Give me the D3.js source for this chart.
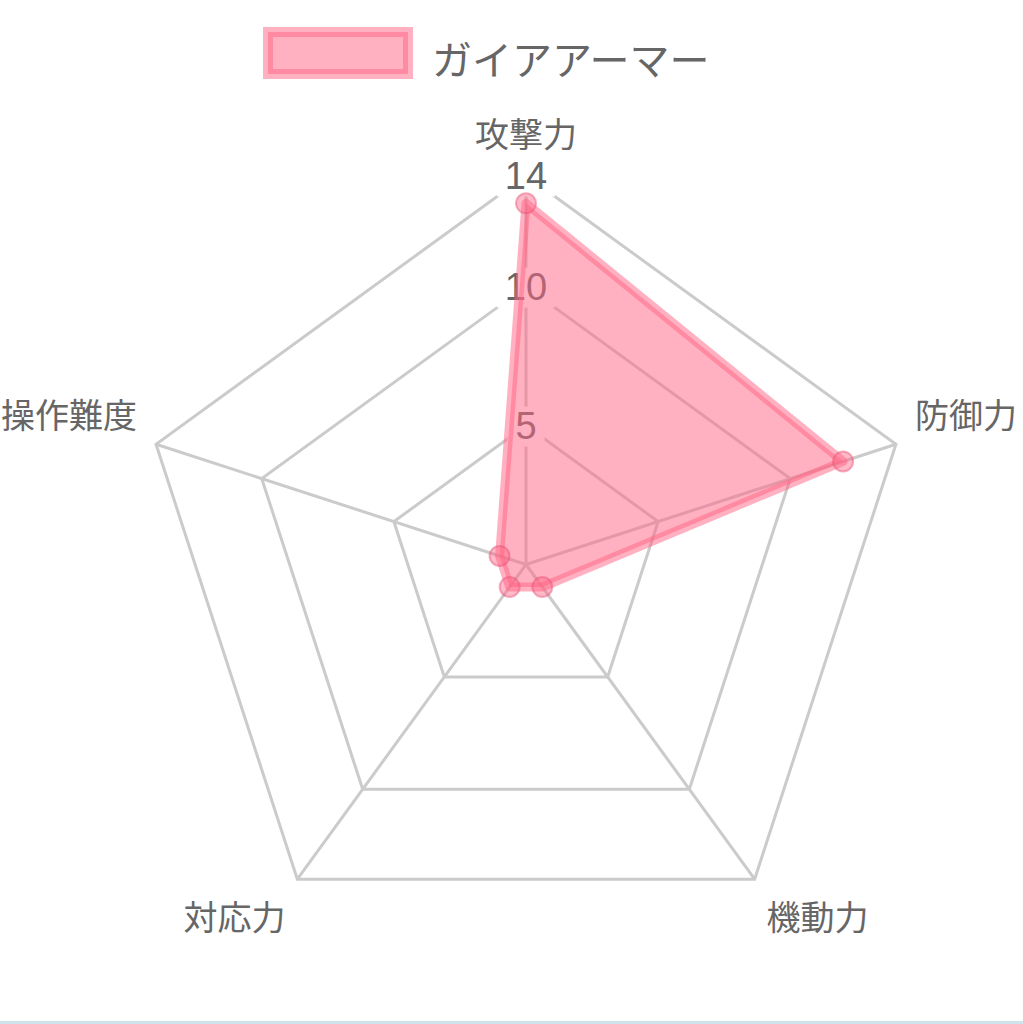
<!DOCTYPE html>
<html>
<head>
<meta charset="utf-8">
<script src="https://cdn.jsdelivr.net/npm/d3@7"></script>
<style>
  html, body { margin: 0; padding: 0; background: #fff; }
  text { font-family: "Noto Sans CJK JP", "Noto Sans", sans-serif; fill: #666; }
</style>
</head>
<body>
<div id="container"></div>
<script>
const width = 1023;
const height = 1024;

// data
const labels = ["攻撃力", "防御力", "機動力", "対応力", "操作難度"];
const values = [13, 12, 1, 1, 1];
const tickValues = [5, 10, 14];
const seriesName = "ガイアアーマー";

const cx = 526, cy = 564.5;
const r = d3.scaleLinear().domain([0, 14]).range([0, 389]);
const angle = d3.scalePoint().domain(d3.range(labels.length + 1)).range([0, 2 * Math.PI]);

const svg = d3.select("#container")
  .append("svg")
  .attr("width", width)
  .attr("height", height)
  .attr("viewBox", [0, 0, width, height]);

const g = svg.append("g").attr("transform", `translate(${cx},${cy})`);

const radial = d3.lineRadial().curve(d3.curveLinearClosed);

// grid rings
g.selectAll(".ring")
  .data(tickValues)
  .join("path")
  .attr("fill", "none")
  .attr("stroke", "#cbcbcb")
  .attr("stroke-width", 3)
  .attr("d", t => radial(labels.map((_, i) => [angle(i), r(t)])));

// angle lines
g.selectAll(".spoke")
  .data(labels)
  .join("line")
  .attr("stroke", "#cbcbcb")
  .attr("stroke-width", 3)
  .attr("x2", (_, i) => r(14) * Math.sin(angle(i)))
  .attr("y2", (_, i) => -r(14) * Math.cos(angle(i)));

// tick labels with white backdrop
const tick = g.selectAll(".tick")
  .data(tickValues)
  .join("g")
  .attr("transform", t => `translate(0,${-r(t)})`);

tick.append("text")
  .attr("text-anchor", "middle")
  .attr("dominant-baseline", "central")
  .style("font-size", "38px")
  .style("font-family", "'Liberation Sans', 'Noto Sans', sans-serif")
  .text(d => d)
  .each(function () {
    const b = this.getBBox();
    d3.select(this.parentNode).insert("rect", "text")
      .attr("x", b.x - 8).attr("y", b.y + 2)
      .attr("width", b.width + 16).attr("height", b.height - 2)
      .attr("fill", "#fff");
  });

// dataset
g.append("path")
  .attr("fill", "rgba(255,99,132,0.5)")
  .attr("stroke", "rgba(255,99,132,0.5)")
  .attr("stroke-width", 9)
  .attr("stroke-linejoin", "round")
  .attr("d", radial(values.map((v, i) => [angle(i), r(v)])));

g.selectAll(".pt")
  .data(values)
  .join("circle")
  .attr("cx", (v, i) => r(v) * Math.sin(angle(i)))
  .attr("cy", (v, i) => -r(v) * Math.cos(angle(i)))
  .attr("r", 10)
  .attr("fill", "rgba(255,99,132,0.45)")
  .attr("stroke", "rgba(230,80,115,0.45)")
  .attr("stroke-width", 2);

// point labels
const pad = 20;
g.selectAll(".plabel")
  .data(labels)
  .join("text")
  .style("font-size", "34px")
  .attr("dominant-baseline", "central")
  .attr("text-anchor", (_, i) => {
    const s = Math.sin(angle(i));
    return Math.abs(s) < 0.01 ? "middle" : s > 0 ? "start" : "end";
  })
  .attr("x", (_, i) => (r(14) + pad) * Math.sin(angle(i)))
  .attr("y", (_, i) => {
    const c = Math.cos(angle(i));
    const off = c > 0.9 ? -23 : c > 0 ? -25 : 20;
    return -(r(14) + pad) * c + off;
  })
  .text(d => d);

// legend
const legend = svg.append("g");
legend.append("rect")
  .attr("x", 268).attr("y", 32)
  .attr("width", 140).attr("height", 42)
  .attr("fill", "rgba(255,99,132,0.5)")
  .attr("stroke", "rgba(255,99,132,0.5)")
  .attr("stroke-width", 10);
legend.append("text")
  .attr("x", 432).attr("y", 58)
  .attr("dominant-baseline", "central")
  .style("font-size", "40px")
  .text(seriesName);

// bottom border strip
svg.append("rect")
  .attr("x", 0).attr("y", 1021)
  .attr("width", width).attr("height", 3)
  .attr("fill", "#cfe3ec");
</script>
</body>
</html>
